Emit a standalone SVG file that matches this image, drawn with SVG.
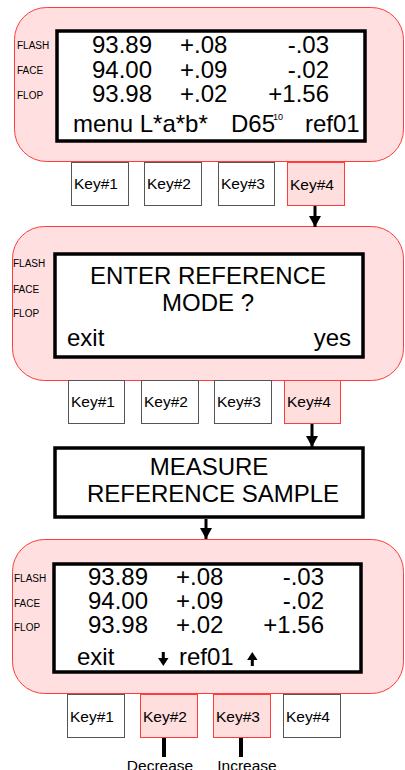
<svg xmlns="http://www.w3.org/2000/svg" width="405" height="770" viewBox="0 0 405 770">
<defs>
<style>
.panel{fill:#ffdfdf;stroke:#ff3b3b;stroke-width:1}
.screen{fill:#fff;stroke:#000;stroke-width:3.5}
.key{fill:#fff;stroke:#555;stroke-width:1}
.keyon{fill:#ffdede;stroke:#ff3b3b;stroke-width:1}
.t{font-family:"Liberation Sans",Arial,sans-serif;fill:#000}
.big{font-size:24px}
.lab{font-size:10px}
.kt{font-size:15.5px}
.conn{stroke:#000;stroke-width:3;fill:none}
</style>
<marker id="ah" markerUnits="userSpaceOnUse" markerWidth="12" markerHeight="12" viewBox="0 0 12 12" refX="11" refY="6" orient="auto">
<path d="M0,0 L11,6 L0,12 Z" fill="#000"/>
</marker>
</defs>

<g id="panel1">
<rect class="panel" x="14.5" y="7.5" width="389" height="154" rx="32"/>
<rect class="screen" x="57" y="31" width="308" height="110"/>
<text class="t lab" x="17" y="49">FLASH</text>
<text class="t lab" x="17" y="74">FACE</text>
<text class="t lab" x="17" y="99">FLOP</text>
<text class="t big" x="92" y="53">93.89</text>
<text class="t big" x="180" y="53">+.08</text>
<text class="t big" x="329" y="53" text-anchor="end">-.03</text>
<text class="t big" x="92" y="78">94.00</text>
<text class="t big" x="180" y="78">+.09</text>
<text class="t big" x="329" y="78" text-anchor="end">-.02</text>
<text class="t big" x="92" y="102">93.98</text>
<text class="t big" x="180" y="102">+.02</text>
<text class="t big" x="329" y="102" text-anchor="end">+1.56</text>
<text class="t big" x="73" y="132">menu L*a*b*</text>
<text class="t big" x="231" y="132">D65</text>
<text class="t" font-size="9" x="273" y="120">10</text>
<text class="t big" x="305" y="132">ref01</text>
</g>
<g id="keys1">
<rect class="key" x="71.5" y="162.5" width="57" height="43"/>
<text class="t kt" x="74" y="189">Key#1</text>
<rect class="key" x="144.5" y="162.5" width="57" height="43"/>
<text class="t kt" x="147" y="189">Key#2</text>
<rect class="key" x="218.5" y="162.5" width="56" height="43"/>
<text class="t kt" x="221" y="189">Key#3</text>
<rect class="keyon" x="287.5" y="162.5" width="57" height="43"/>
<text class="t kt" x="290" y="190">Key#4</text>
</g>

<g id="panel2">
<rect class="panel" x="12.5" y="226.5" width="391" height="154" rx="32"/>
<rect class="screen" x="55" y="254" width="308" height="103"/>
<text class="t lab" x="13" y="267">FLASH</text>
<text class="t lab" x="13" y="293">FACE</text>
<text class="t lab" x="13" y="317">FLOP</text>
<text class="t big" x="208" y="284" text-anchor="middle">ENTER REFERENCE</text>
<text class="t big" x="208" y="311" text-anchor="middle">MODE ?</text>
<text class="t big" x="67" y="346">exit</text>
<text class="t big" x="351" y="346" text-anchor="end">yes</text>
</g>
<g id="keys2">
<rect class="key" x="68.5" y="380.5" width="56" height="43"/>
<text class="t kt" x="71" y="407">Key#1</text>
<rect class="key" x="141.5" y="380.5" width="57" height="43"/>
<text class="t kt" x="144" y="407">Key#2</text>
<rect class="key" x="214.5" y="380.5" width="57" height="43"/>
<text class="t kt" x="217" y="407">Key#3</text>
<rect class="keyon" x="284.5" y="380.5" width="56" height="43"/>
<text class="t kt" x="287" y="407">Key#4</text>
</g>

<g id="measure">
<rect class="screen" x="55" y="448" width="308" height="69"/>
<text class="t big" x="209" y="475" text-anchor="middle">MEASURE</text>
<text class="t big" x="213" y="502" text-anchor="middle">REFERENCE SAMPLE</text>
</g>

<g id="panel3">
<rect class="panel" x="12.5" y="539.5" width="391" height="154" rx="32"/>
<rect class="screen" x="54" y="564" width="307" height="108"/>
<text class="t lab" x="14" y="582">FLASH</text>
<text class="t lab" x="14" y="607">FACE</text>
<text class="t lab" x="14" y="631">FLOP</text>
<text class="t big" x="88" y="585">93.89</text>
<text class="t big" x="176" y="585">+.08</text>
<text class="t big" x="324" y="585" text-anchor="end">-.03</text>
<text class="t big" x="88" y="609">94.00</text>
<text class="t big" x="176" y="609">+.09</text>
<text class="t big" x="324" y="609" text-anchor="end">-.02</text>
<text class="t big" x="88" y="633">93.98</text>
<text class="t big" x="176" y="633">+.02</text>
<text class="t big" x="324" y="633" text-anchor="end">+1.56</text>
<text class="t big" x="77" y="665">exit</text>
<path d="M161.8,652 h3 v6 h3.7 l-5.2,8 l-5.2,-8 h3.7 Z" fill="#000"/>
<text class="t big" x="179" y="665">ref01</text>
<path d="M250.8,666 h3 v-6 h3.7 l-5.2,-8 l-5.2,8 h3.7 Z" fill="#000"/>
</g>
<g id="keys3">
<rect class="key" x="67.5" y="694.5" width="57" height="43"/>
<text class="t kt" x="70" y="722">Key#1</text>
<rect class="keyon" x="140.5" y="694.5" width="57" height="43"/>
<text class="t kt" x="143" y="722">Key#2</text>
<rect class="keyon" x="213.5" y="694.5" width="57" height="43"/>
<text class="t kt" x="216" y="722">Key#3</text>
<rect class="key" x="283.5" y="694.5" width="57" height="43"/>
<text class="t kt" x="286" y="722">Key#4</text>
</g>

<g id="connectors">
<line class="conn" x1="315" y1="206" x2="315" y2="227" marker-end="url(#ah)"/>
<line class="conn" x1="312" y1="424" x2="312" y2="447" marker-end="url(#ah)"/>
<line class="conn" x1="206" y1="519" x2="206" y2="539" marker-end="url(#ah)"/>
<line stroke="#000" stroke-width="4" x1="164" y1="738" x2="164" y2="757"/>
<line stroke="#000" stroke-width="4" x1="241" y1="738" x2="241" y2="757"/>
</g>
<g id="labels">
<text class="t kt" x="160" y="771" text-anchor="middle">Decrease</text>
<text class="t kt" x="247" y="771" text-anchor="middle">Increase</text>
</g>
</svg>
